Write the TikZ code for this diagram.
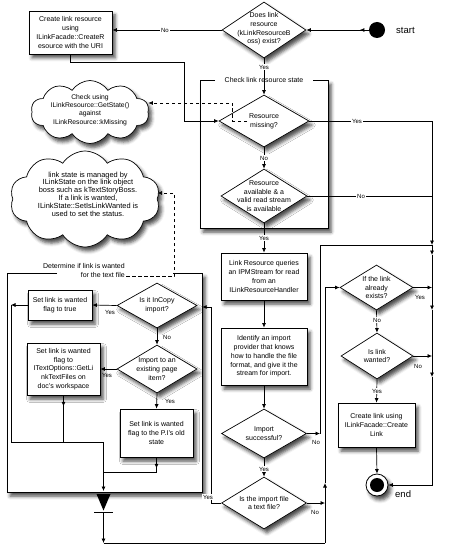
\documentclass[tikz,border=0pt]{standalone}
\usepackage{fontspec}
\setmainfont{Liberation Sans}
\usetikzlibrary{shapes.geometric,shapes.symbols,shadows.blur,arrows.meta,decorations.markings}
\begin{document}
\begin{tikzpicture}[x=1pt,y=-1pt,
 shd/.style={blur shadow={shadow xshift=3pt,shadow yshift=-4pt,shadow blur radius=3.5pt,shadow opacity=70}},
 conn/.style={line width=0.7pt},
 tip/.style={-{Latex[length=4.5pt,width=4pt]}},
 midtip/.style={postaction={decorate,decoration={markings,mark=at position #1 with {\arrow{Latex[length=4.5pt,width=4pt]}}}}},
 txt/.style={font=\fontsize{7}{8.7}\selectfont,align=center,inner sep=0pt},
 box/.style={rectangle,draw,line width=0.8pt,fill=white,shd,txt},
 dia/.style={diamond,draw,line width=0.7pt,fill=white,shd,inner sep=0pt},
 frm/.style={rectangle,fill=white,shd,inner sep=0pt},
 cld/.style={cloud,cloud puffs=10,cloud puff arc=115,cloud ignores aspect,draw,line width=0.7pt,fill=white,shd,inner sep=0pt},
 lab/.style={font=\fontsize{6}{7}\selectfont,inner sep=1pt},
 labw/.style={lab,fill=white},
 dsh/.style={conn,dash pattern=on 3.5pt off 2.5pt},
]
\useasboundingbox (0,0) rectangle (462,559);

% ---------- frames ----------
\node[frm,minimum width=128pt,minimum height=148pt] (fr1) at (264,154) {};
\draw[line width=0.8pt] (215,80) -- (200,80) -- (200,228) -- (328,228) -- (328,80) -- (313,80);
\node[txt] (ttl1) at (264,80) {Check link resource state};

\node[frm,minimum width=195pt,minimum height=219pt] (fr2) at (104.5,382.5) {};
\draw[line width=0.8pt] (57,273) -- (7,273) -- (7,492) -- (202,492) -- (202,273) -- (173,273);
\node[txt,align=right,anchor=east] (ttl2) at (125,270.5) {Determine if link is wanted\\for the text file};

% ---------- clouds ----------
\node[cld,minimum width=118pt,minimum height=63pt] (c1) at (90,112) {};
\node[txt,font=\fontsize{6.8}{8.4}\selectfont] (c1t) at (90,110) {Check using\\ILinkResource::GetState()\\against\\ILinkResource::kMissing};
\node[cld,minimum width=150pt,minimum height=96pt] (c2) at (85,199) {};
\node[txt,font=\fontsize{7.4}{7.8}\selectfont] (c2t) at (88,194) {link state is managed by\\ILinkState on the link object\\boss such as kTextStoryBoss.\\If a link is wanted,\\ILinkState::SetIsLinkWanted is\\used to set the status.};

% ---------- top ----------
\node[circle,fill=black,minimum size=16pt,inner sep=0pt] (st) at (377,30) {};
\node[font=\fontsize{9.5}{11}\selectfont,anchor=west,inner sep=0pt] (stl) at (396,30) {start};
\node[dia,minimum width=84pt,minimum height=56pt] (d1) at (264,30) {};
\node[txt] (d1t) at (264,29) {Does link\\resource\\(kLinkResourceB\\oss) exist?};
\node[box,minimum width=83pt,minimum height=43pt] (b1) at (70.5,32.5) {Create link resource\\using\\ILinkFacade::CreateR\\esource with the URI};

% ---------- check column ----------
\node[dia,minimum width=90pt,minimum height=52pt] (d2) at (264,121) {};
\node[txt] (d2t) at (264,121) {Resource\\missing?};
\node[dia,minimum width=86pt,minimum height=54pt] (d3) at (264,196) {};
\node[txt] (d3t) at (264,196) {Resource\\available \& a\\valid read stream\\is available};
\node[box,minimum width=86pt,minimum height=47pt] (b2) at (264,276.5) {Link Resource queries\\an IPMStream for read\\from an\\ILinkResourceHandler};
\node[box,minimum width=86pt,minimum height=57pt] (b3) at (264,356.5) {Identify an import\\provider that knows\\how to handle the file\\format, and give it the\\stream for import.};
\node[dia,minimum width=85pt,minimum height=49pt] (d4) at (264,433.5) {};
\node[txt] (d4t) at (264,433.5) {Import\\successful?};
\node[dia,minimum width=85pt,minimum height=52pt] (d5) at (264,503) {};
\node[txt] (d5t) at (264,503) {Is the import file\\a text file?};

% ---------- frame 2 contents ----------
\node[dia,minimum width=80pt,minimum height=45pt] (d6) at (157,305.5) {};
\node[txt] (d6t) at (157,305.5) {Is it InCopy\\import?};
\node[box,minimum width=64pt,minimum height=30pt] (b4) at (60,305) {Set link is wanted\\flag to true};
\node[dia,minimum width=80pt,minimum height=48pt] (d7) at (157,369) {};
\node[txt] (d7t) at (157,369) {Import to an\\existing page\\item?};
\node[box,minimum width=73pt,minimum height=52pt] (b5) at (63.5,369) {Set link is wanted\\flag to\\ITextOptions::GetLi\\nkTextFiles on\\doc's workspace};
\node[box,minimum width=73pt,minimum height=48pt] (b6) at (156.5,433) {Set link is wanted\\flag to the P.I's old\\state};

% ---------- right column ----------
\node[dia,minimum width=73pt,minimum height=45pt] (d8) at (376.5,287.5) {};
\node[txt] (d8t) at (376.5,287.5) {If the link\\already\\exists?};
\node[dia,minimum width=72pt,minimum height=46pt] (d9) at (377,356) {};
\node[txt] (d9t) at (377,356) {Is link\\wanted?};
\node[box,minimum width=77pt,minimum height=44pt] (b7) at (376.5,425) {Create link using\\ILinkFacade::Create\\Link};
\node[circle,draw,line width=0.8pt,fill=white,minimum size=22pt,inner sep=0pt,shd] (endc) at (377,485) {};
\node[circle,fill=black,minimum size=14pt,inner sep=0pt] (endi) at (377,485) {};
\node[font=\fontsize{9.5}{11}\selectfont,anchor=west,inner sep=0pt] (endl) at (395,494) {end};

% ---------- coordinates ----------
\coordinate (j1) at (184,62);
\coordinate (r1) at (432,121);
\coordinate (r2) at (432,245);
\coordinate (r3) at (320,245);
\coordinate (r5) at (432,255);
\coordinate (r6) at (432,287.5);
\coordinate (r7) at (432,310);
\coordinate (r8) at (432,356);
\coordinate (r9) at (432,377);
\coordinate (r4) at (432,485);
\coordinate (r10) at (320,433.5);
\coordinate (r11) at (325,503);
\coordinate (m1) at (103.5,512);
\coordinate (m2) at (103.5,543);
\coordinate (m3) at (325,543);
\coordinate (m4) at (325,483);
\coordinate (m5) at (325,287.5);
\coordinate (y1) at (211,503);
\coordinate (y2) at (211,307);
\coordinate (q1) at (11,305);
\coordinate (q2) at (11,442);
\coordinate (q3) at (103.5,442);
\coordinate (q4) at (103.5,472);
\coordinate (q5) at (103.5,491);
\coordinate (k1) at (247,121);
\coordinate (k2) at (232,121);
\coordinate (k3) at (232,103);
\coordinate (t1) at (126,276);
\coordinate (t2) at (174,276);
\coordinate (t3) at (174,193);

% ---------- connectors ----------
\draw[conn,tip,midtip=9pt] (st) -- (d1.east);
\draw[conn,tip] (d1.west) -- (d1.west -| b1.east);
\node[labw] (l1) at (165,30) {No};
\draw[conn,tip] (b1.south) |- (j1) |- (d2.west);
\draw[conn,tip] (d1.south) -- (d2.north);
\node[labw] (l2) at (264,67) {Yes};
\draw[conn,tip] (d2.south) -- (d3.north);
\node[labw] (l3) at (264,158) {No};
\draw[conn,tip] (d3.south) -- (b2.north);
\node[labw] (l4) at (264,238) {Yes};
\draw[conn,tip] (b2.south) -- (b3.north);
\draw[conn,tip] (b3.south) -- (d4.north);
\draw[conn,tip] (d4.south) -- (d5.north);
\node[labw] (l5) at (264,469) {Yes};

\draw[conn,tip] (d2.east) -- (r1) -- (r2);
\node[labw] (l6) at (357,121) {Yes};
\draw[conn] (d3.east) -- (d3.east -| r1);
\node[labw] (l7) at (361,196) {No};
\draw[conn] (r3) -- (r2);
\draw[conn] (r3) -- (r10);
\draw[conn,tip] (r2) -- (r5);
\draw[conn,tip] (r5) -- (r7);
\draw[conn,tip] (r7) -- (r9);
\draw[conn,tip] (r9) -- (r4) -- (endc.east);
\draw[conn,tip] (d8.east) -- (r6);
\node[lab] (l8) at (420,297) {Yes};
\draw[conn,tip] (d9.east) -- (r8);
\node[lab] (l9) at (418,366) {No};
\draw[conn,tip] (d8.south) -- (d9.north);
\node[labw] (l10) at (377,320) {No};
\draw[conn,tip] (d9.south) -- (b7.north);
\node[labw] (l11) at (377,391) {Yes};
\draw[conn,tip] (b7.south) -- (endc.north);

\draw[conn,tip] (d4.east) -- (r10);
\node[lab] (l12) at (316,442) {No};
\draw[conn,tip] (d5.east) -- (r11);
\node[lab] (l13) at (315,512) {No};

\draw[conn,tip] (d5.west) -- (y1) -- (y2) -- (y2 -| fr2.east);
\node[labw] (l14) at (208,497) {Yes};

% frame 2 internals
\draw[conn,tip] (d6.west) -- (b4.east);
\node[lab] (l15) at (110,312) {Yes};
\draw[conn,tip] (d6.south) -- (d7.north);
\node[lab] (l16) at (167,337) {No};
\draw[conn,tip] (d7.west) -- (b5.east);
\node[lab] (l17) at (107,375) {Yes};
\draw[conn,tip] (d7.south) -- (b6.north);
\node[lab] (l18) at (170,401) {Yes};
\draw[conn,tip] (b4.west) -- (q1);
\draw[conn] (q1) -- (q2) -- (q3);
\draw[conn,midtip=11pt] (b5.south) -- (b5.south |- q2);
\draw[conn,midtip=11pt] (b6.south) -- (b6.south |- q4) -- (q4);
\draw[conn] (q3) -- (q4);
\draw[conn,tip] (q4) -- (q5);

% merge bar
\fill (96.5,494) -- (110.5,494) -- (103.5,510.5) -- cycle;
\draw[line width=0.8pt] (94,512) -- (113,512);
\draw[conn,tip] (m1) -- (m2);
\draw[conn] (m2) -- (m3);
\draw[conn,tip] (m3) -- (m4);
\draw[conn,tip] (m4) -- (m5) -- (d8.west);

% dashed notes
\draw[dsh,tip] (k1) -- (k2) -- (k3) -- (c1.east |- k3);
\draw[dsh,tip] (t1) -- (t2) -- (t3) -- (c2.east |- t3);
\end{tikzpicture}
\end{document}
